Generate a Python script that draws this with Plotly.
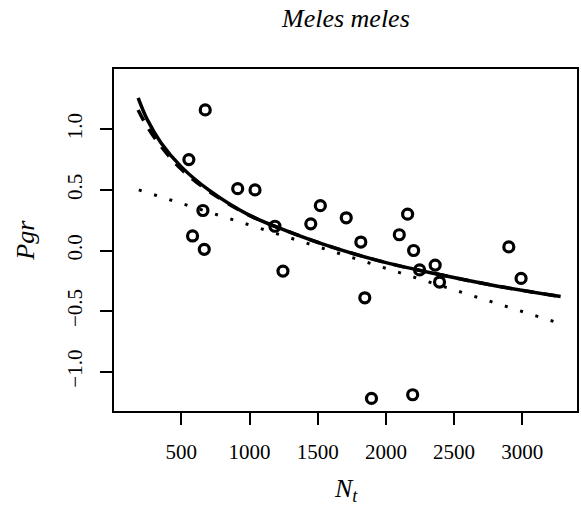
import plotly.graph_objects as go

# Observed data (population size N_t and per-capita growth rate Pgr)
n_t = [555, 582, 658, 668, 675, 913, 1040, 1186, 1245, 1449, 1519, 1709,
       1816, 1845, 1894, 2098, 2159, 2196, 2203, 2247, 2361, 2393, 2901, 2991]
pgr = [0.75, 0.12, 0.33, 0.01, 1.16, 0.51, 0.50, 0.20, -0.17, 0.22, 0.37, 0.27,
       0.07, -0.39, -1.22, 0.13, 0.30, -1.19, 0.00, -0.16, -0.12, -0.26, 0.03, -0.23]

# Fitted curves
fit_x = [183, 250, 350, 500, 700, 1000, 1300, 1600, 2000, 2400, 2800, 3281]
fit_solid = [1.26, 1.08, 0.89, 0.69, 0.50, 0.29, 0.15, 0.03, -0.10, -0.20, -0.29, -0.38]
fit_dashed = [1.16, 1.02, 0.86, 0.67, 0.49, 0.29, 0.15, 0.03, -0.10, -0.20, -0.29, -0.38]
lin_x = [188, 3242]
lin_y = [0.50, -0.59]

x_ticks = [500, 1000, 1500, 2000, 2500, 3000]
y_ticks = [-1.0, -0.5, 0.0, 0.5, 1.0]

FONT = "Liberation Serif, Times New Roman, serif"

fig = go.Figure()
fig.add_trace(go.Scatter(x=n_t, y=pgr, mode="markers",
                         marker=dict(symbol="circle-open", size=10, color="black",
                                     line=dict(width=3.2, color="black")),
                         showlegend=False))
fig.add_trace(go.Scatter(x=lin_x, y=lin_y, mode="lines",
                         line=dict(color="black", width=3, dash="3px,13px"),
                         showlegend=False))
fig.add_trace(go.Scatter(x=fit_x, y=fit_dashed, mode="lines", line_shape="spline",
                         line=dict(color="black", width=3.5, dash="12px,10px"),
                         showlegend=False))
fig.add_trace(go.Scatter(x=fit_x, y=fit_solid, mode="lines", line_shape="spline",
                         line=dict(color="black", width=3.5),
                         showlegend=False))

fig.update_layout(
    width=581, height=523,
    margin=dict(l=114, r=2, t=69, b=112),
    paper_bgcolor="white", plot_bgcolor="white",
    font=dict(family=FONT, color="black"),
    xaxis=dict(range=[6, 3401], tickvals=x_ticks, ticks="outside", ticklen=12,
               tickwidth=1.5, tickcolor="black", showline=True, linecolor="black",
               linewidth=2, mirror=True, showgrid=False, zeroline=False,
               tickfont=dict(size=21, family=FONT), ticklabelstandoff=9),
    yaxis=dict(range=[-1.324, 1.4975], tickvals=y_ticks, tickformat=".1f",
               ticks="outside", ticklen=12, tickwidth=1.5, tickcolor="black",
               showline=True, linecolor="black", linewidth=2, mirror=True,
               showgrid=False, zeroline=False, tickangle=-90,
               tickfont=dict(size=21, family=FONT), ticklabelstandoff=10),
    annotations=[
        dict(text="<i>Meles meles</i>", xref="paper", yref="paper", x=0.5, y=1.149,
             xanchor="center", yanchor="middle", showarrow=False,
             font=dict(size=26, family=FONT)),
        dict(text="<i>N</i><sub><i>t</i></sub>", xref="paper", yref="paper", x=0.5,
             y=-0.231, xanchor="center", yanchor="middle", showarrow=False,
             font=dict(size=26, family=FONT)),
        dict(text="<i>Pgr</i>", xref="paper", yref="paper", x=-0.193, y=0.5,
             xanchor="center", yanchor="middle", textangle=-90, showarrow=False,
             font=dict(size=26, family=FONT)),
    ],
)

fig.write_html("out.html")
